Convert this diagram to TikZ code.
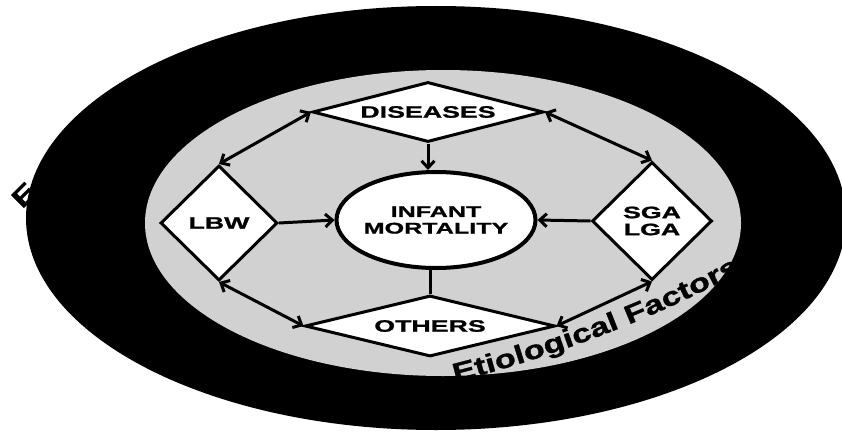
\documentclass[tikz,border=0pt]{standalone}
\usepackage{fontspec}
\newfontfamily\widefont[FakeStretch=1.62,FakeBold=1.2]{Liberation Sans}
\newfontfamily\ringfont[FakeStretch=1.32,FakeBold=1.2]{Liberation Sans}
\usetikzlibrary{shapes.geometric,arrows.meta,decorations.text}
\begin{document}
\begin{tikzpicture}[x=1pt,y=1pt,
  box/.style={diamond, draw=black, line width=3pt, fill=white, inner sep=0pt,
    font=\widefont\bfseries\fontsize{16.5}{17}\selectfont, align=center},
  conn/.style={line width=3pt, -{Straight Barb[length=7pt,width=13pt]}},
  both/.style={line width=3pt, {Straight Barb[length=7pt,width=13pt]}-{Straight Barb[length=7pt,width=13pt]}},
  plain/.style={line width=3pt},
  ringtext/.style={font=\ringfont\bfseries\fontsize{26}{26}\selectfont, inner sep=0pt}
]
\useasboundingbox (0,0) rectangle (842,432);
% outer black ring and speckled inner field
\fill[black] (436,214) ellipse [x radius=410, y radius=212];
\fill[black!18] (443,209) ellipse [x radius=298, y radius=153];

% ring label
\path[decorate, decoration={text along path,
  text={|\ringfont\bfseries\fontsize{26}{26}\selectfont|Etiological Factors}, text align=left}]
  (455,50) .. controls (555,75) and (680,122) .. (770,178);
\node[ringtext, rotate=45] (e) at (24,237) {E};

% centre
\node[ellipse, draw=black, line width=4pt, fill=white, inner sep=0pt, inner xsep=-14pt,
  minimum width=199pt, minimum height=96pt, align=center,
  font=\widefont\bfseries\fontsize{15.5}{16.6}\selectfont] (im) at (436,212) {INFANT\\MORTALITY};

% diamonds
\node[box, shape aspect=3.85, minimum width=231pt, minimum height=60pt] (dis) at (428,320) {DISEASES};
\node[box, shape aspect=1, minimum width=117pt, minimum height=115pt] (lbw) at (219,209) {LBW};
\node[box, shape aspect=1, minimum width=120pt, minimum height=118pt] (sga) at (652,211) {SGA\\LGA};
\node[box, shape aspect=4.1, minimum width=250pt, minimum height=61pt] (oth) at (430,106) {OTHERS};

% connectors
\draw[both] (dis.west) -- (lbw.north);
\draw[both] (dis.east) -- (sga.north);
\draw[both] (lbw.south) -- (oth.west);
\draw[both] (sga.south) -- (oth.east);
\draw[conn] (dis.south) -- (dis.south |- im.north);
\draw[conn] (lbw.east) -- (im.west);
\draw[conn] (sga.west) -- (im.east);
\draw[plain] (oth.north) -- (oth.north |- im.south);
\end{tikzpicture}
\end{document}
